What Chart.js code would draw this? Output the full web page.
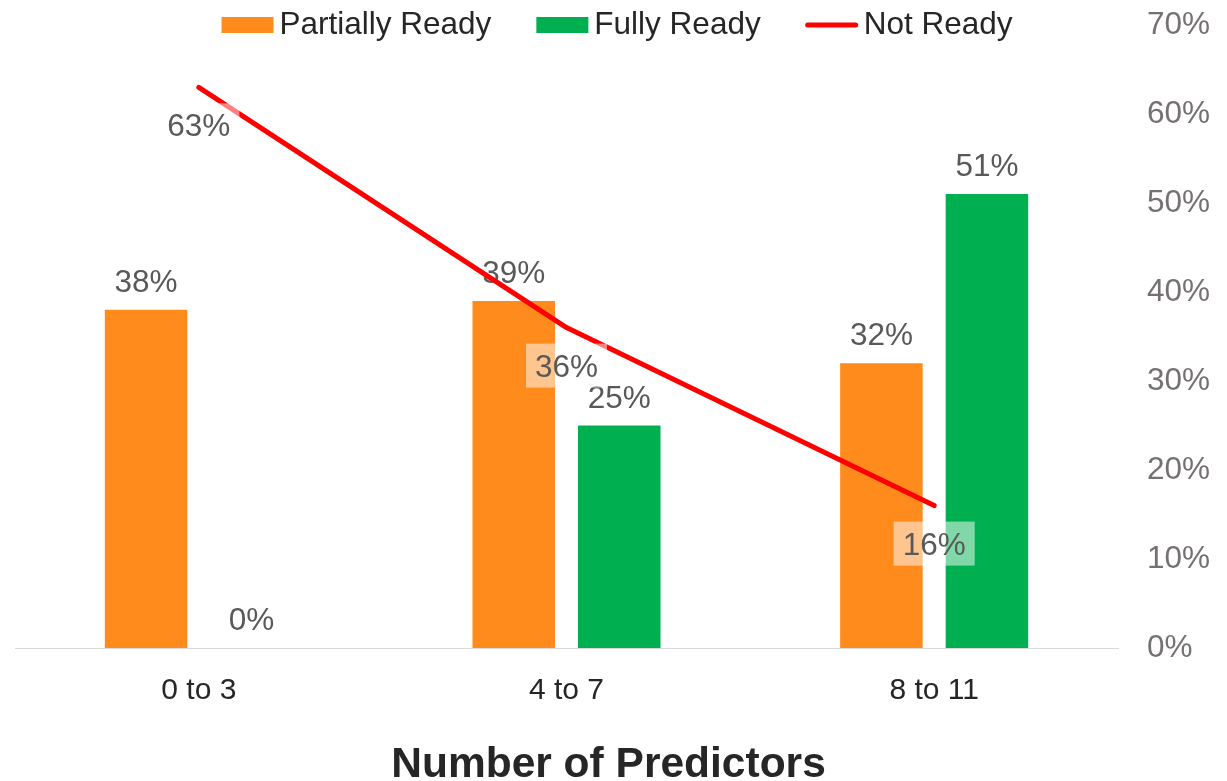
<!DOCTYPE html>
<html>
<head>
<meta charset="utf-8">
<title>Readiness by Number of Predictors</title>
<script src="https://cdn.jsdelivr.net/npm/chart.js@4.4.1/dist/chart.umd.min.js"></script>
<style>
  html, body { margin: 0; padding: 0; background: #ffffff; }
  #wrap { position: relative; width: 1227px; height: 781px; }
</style>
</head>
<body>
<div id="wrap"><canvas id="chart" width="1227" height="781"></canvas></div>
<script>
// Categories and series values (percent)
const categories = ['0 to 3', '4 to 7', '8 to 11'];
const partiallyReady = [38, 39, 32];
const fullyReady = [0, 25, 51];
const notReady = [63, 36, 16];
const yTickValues = [0, 10, 20, 30, 40, 50, 60, 70];
const axisTitle = 'Number of Predictors';

const FONT = '"Liberation Sans", Arial, Helvetica, sans-serif';
const LABEL_SIZE = 31.5;
const ORANGE = '#FF8B1C';
const GREEN = '#00B050';
const RED = '#FF0000';

// Value labels: bars get a plain label above the bar, the line gets a
// half-transparent white box below each point. Drawn per dataset so that
// the line sits above the bar labels and the line labels sit above the line.
const valueLabels = {
  id: 'valueLabels',
  afterDatasetDraw(chart, args) {
    const ctx = chart.ctx;
    const ds = chart.data.datasets[args.index];
    const meta = args.meta;
    ctx.save();
    ctx.font = LABEL_SIZE + 'px ' + FONT;
    ctx.textAlign = 'center';
    ctx.textBaseline = 'alphabetic';
    meta.data.forEach((el, i) => {
      const text = ds.data[i] + '%';
      if (ds.type === 'line') {
        const w = ctx.measureText(text).width + 18;
        const h = 44;
        const cy = el.y + 38;
        ctx.fillStyle = 'rgba(255,255,255,0.5)';
        ctx.fillRect(el.x - w / 2, cy - h / 2, w, h);
        ctx.fillStyle = '#595959';
        ctx.fillText(text, el.x, cy + 11);
      } else {
        ctx.fillStyle = '#595959';
        ctx.fillText(text, el.x, el.y - 18);
      }
    });
    ctx.restore();
  }
};

// Legend row across the top (built from the datasets) and the bold
// axis caption along the bottom
const legendAndCaption = {
  id: 'legendAndCaption',
  afterDraw(chart) {
    const ctx = chart.ctx;
    ctx.save();
    ctx.font = LABEL_SIZE + 'px ' + FONT;
    ctx.textBaseline = 'alphabetic';
    ctx.textAlign = 'left';
    const boxW = 52, gapText = 6, gapItem = 45;
    const items = chart.data.datasets.map(ds => ({
      text: ds.label,
      line: ds.type === 'line',
      color: ds.type === 'line' ? ds.borderColor : ds.backgroundColor
    }));
    let total = 0;
    items.forEach((it, i) => {
      it.w = ctx.measureText(it.text).width;
      total += boxW + gapText + it.w + (i ? gapItem : 0);
    });
    let x = 617 - total / 2;
    const cy = 25;
    items.forEach(it => {
      if (it.line) {
        ctx.strokeStyle = it.color;
        ctx.lineWidth = 5;
        ctx.lineCap = 'round';
        ctx.beginPath();
        ctx.moveTo(x + 2, cy);
        ctx.lineTo(x + boxW - 2, cy);
        ctx.stroke();
      } else {
        ctx.fillStyle = it.color;
        ctx.fillRect(x, cy - 8, boxW, 16);
      }
      ctx.fillStyle = '#262626';
      ctx.fillText(it.text, x + boxW + gapText, cy + 9);
      x += boxW + gapText + it.w + gapItem;
    });

    ctx.font = 'bold 42.5px ' + FONT;
    ctx.textAlign = 'center';
    ctx.fillStyle = '#262626';
    ctx.fillText(axisTitle, 608.5, 777);
    ctx.restore();
  }
};

new Chart(document.getElementById('chart'), {
  data: {
    labels: categories,
    datasets: [
      {
        type: 'bar',
        label: 'Partially Ready',
        data: partiallyReady,
        backgroundColor: ORANGE,
        yAxisID: 'y',
        order: 1,
        categoryPercentage: 0.574,
        barPercentage: 0.782
      },
      {
        type: 'bar',
        label: 'Fully Ready',
        data: fullyReady,
        backgroundColor: GREEN,
        yAxisID: 'y',
        order: 1,
        categoryPercentage: 0.574,
        barPercentage: 0.782
      },
      {
        type: 'line',
        label: 'Not Ready',
        data: notReady,
        borderColor: RED,
        backgroundColor: RED,
        borderWidth: 5,
        borderCapStyle: 'round',
        borderJoinStyle: 'round',
        pointRadius: 0,
        pointHoverRadius: 0,
        tension: 0,
        fill: false,
        yAxisID: 'y',
        order: 0
      }
    ]
  },
  options: {
    responsive: false,
    animation: false,
    devicePixelRatio: 1,
    layout: { padding: { top: 25, left: 15, right: 0, bottom: 0 } },
    plugins: {
      legend: { display: false },
      tooltip: { enabled: false }
    },
    scales: {
      x: {
        type: 'category',
        offset: true,
        afterFit(scale) { scale.height = 133; },
        grid: { display: false, drawTicks: false },
        border: { display: true, color: '#D9D9D9', width: 1 },
        ticks: {
          color: '#262626',
          font: { family: FONT, size: 30, lineHeight: 1 },
          padding: 28
        },
        title: { display: false }
      },
      y: {
        type: 'linear',
        position: 'right',
        min: 0,
        max: 70,
        afterBuildTicks(scale) {
          scale.ticks = yTickValues.map(v => ({ value: v }));
        },
        afterFit(scale) {
          scale.width = 109;
          scale.paddingTop = 0;
          scale.paddingBottom = 0;
        },
        grid: { display: false, drawTicks: false },
        border: { display: false },
        ticks: {
          color: '#767171',
          font: { family: FONT, size: LABEL_SIZE },
          padding: 29,
          callback: v => v + '%'
        }
      }
    }
  },
  plugins: [valueLabels, legendAndCaption]
});
</script>
</body>
</html>
